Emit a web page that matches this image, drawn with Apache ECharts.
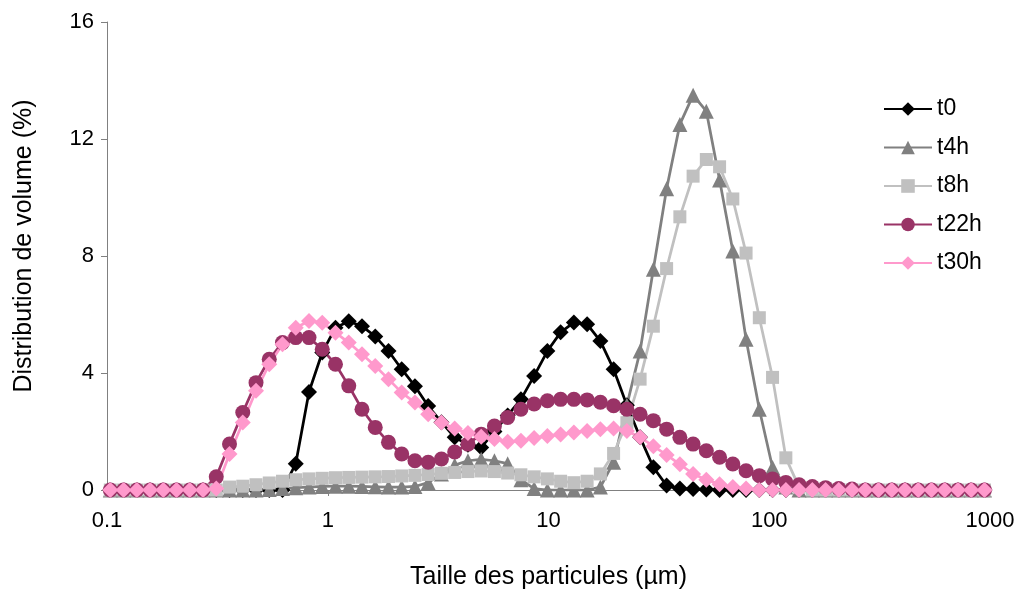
<!DOCTYPE html>
<html>
<head>
<meta charset="utf-8">
<script src="https://cdn.jsdelivr.net/npm/echarts@6/dist/echarts.min.js"></script>
<style>
html,body{margin:0;padding:0;background:#fff;}
#chart{width:1018px;height:595px;}
</style>
</head>
<body>
<div id="chart"></div>
<script>
// particle sizes (µm)
const sizes = [0.1035,0.1189,0.1365,0.1567,0.1799,0.2065,0.2371,0.2723,0.3126,0.3589,0.4121,0.4732,0.5433,0.6237,0.7161,0.8222,0.9441,
1.084,1.245,1.429,1.641,1.884,2.163,2.483,2.851,3.273,3.758,4.315,4.955,5.689,6.531,7.499,8.610,9.886,
11.35,13.03,14.96,17.18,19.72,22.65,26.00,29.85,34.28,39.36,45.19,51.88,59.57,68.39,78.52,90.16,
103.5,118.9,136.5,156.7,179.9,206.5,237.1,272.3,312.6,358.9,412.1,473.2,543.3,623.7,716.1,822.2,944.1];

const t0 = [0,0,0,0,0,0,0,0,0,0,0,0,0,0,
0.9,3.35,4.7,5.55,5.77,5.6,5.25,4.75,4.13,3.55,2.87,2.32,1.8,1.55,1.45,2.0,2.55,3.1,3.9,4.75,5.39,5.73,5.67,5.09,4.13,2.9,1.8,0.78,0.15,0.05,0.03,0.02,
0,0,0,0,0,0,0,0,0,0,0,0,0,0,0,0,0,0,0,0,0];

const t4h = [0,0,0,0,0,0,0,0,0,0,0,0,
0.02,0.05,0.08,0.1,0.12,0.13,0.13,0.12,0.11,0.1,0.1,0.12,0.25,0.55,0.85,1.0,1.05,1.0,0.9,0.35,0.05,0,0,0,0,0.1,0.95,2.9,4.75,7.55,10.3,12.5,13.5,12.95,10.6,8.17,5.15,2.76,0.77,0.1,
0,0,0,0,0,0,0,0,0,0,0,0,0,0,0];

const t8h = [0,0,0,0,0,0,0,0,0,
0.1,0.13,0.18,0.24,0.3,0.35,0.38,0.4,0.42,0.43,0.44,0.45,0.46,0.48,0.5,0.53,0.57,0.6,0.63,0.65,0.63,0.58,0.52,0.45,0.38,0.3,0.25,0.3,0.55,1.25,2.3,3.79,5.6,7.57,9.34,10.73,11.3,11.05,9.95,8.1,5.89,3.85,1.1,0.1,
0,0,0,0,0,0,0,0,0,0,0,0,0,0];

const t22h = [0,0,0,0,0,0,0,0,
0.45,1.57,2.65,3.67,4.47,5.04,5.21,5.21,4.81,4.3,3.56,2.76,2.14,1.63,1.23,1.0,0.95,1.06,1.3,1.57,1.91,2.19,2.48,2.76,2.94,3.05,3.1,3.1,3.08,3.0,2.88,2.76,2.59,2.37,2.08,1.8,1.57,1.34,1.12,0.89,0.66,0.49,0.38,0.26,0.18,0.12,0.08,0.05,0.03,
0,0,0,0,0,0,0,0,0,0];

const t30h = [0,0,0,0,0,0,0,0,
0.05,1.23,2.31,3.39,4.3,4.98,5.55,5.78,5.72,5.38,5.04,4.64,4.24,3.79,3.33,2.99,2.59,2.31,2.1,1.95,1.82,1.74,1.65,1.68,1.78,1.85,1.9,1.97,2.02,2.08,2.1,2.02,1.8,1.5,1.2,0.88,0.55,0.35,0.2,0.1,0.05,
0,0,0,0,0,0,0,0,0,0,0,0,0,0,0,0,0,0];

const seriesNames = ['t0','t4h','t8h','t22h','t30h'];
const seriesValues = [t0,t4h,t8h,t22h,t30h];
const colors = ['#000000','#808080','#C0C0C0','#993366','#FF99CC'];
const symbols = ['diamond','triangle','rect','circle','diamond'];
const symbolSizes = [16,15,13,15,16];

const xTicks = [0.1,1,10,100,1000];
const yTicks = [0,4,8,12,16];

const FONT = '"Liberation Sans", Arial, Helvetica, sans-serif';

const chart = echarts.init(document.getElementById('chart'), null, {renderer:'canvas'});
const series = seriesNames.map((name,k)=>({
  name: name,
  type: 'line',
  data: sizes.map((s,i)=>[s, seriesValues[k][i]]),
  symbol: symbols[k],
  symbolSize: symbolSizes[k],
  showAllSymbol: true,
  lineStyle: {color: colors[k], width: 2.75},
  itemStyle: {color: colors[k], borderWidth: 0},
  emphasis: {disabled: true},
  animation: false,
  clip: true
}));

chart.setOption({
  animation: false,
  backgroundColor: '#ffffff',
  grid: {left: 107, right: 28, top: 22, bottom: 104, containLabel: false},
  xAxis: {
    type: 'log',
    logBase: 10,
    min: xTicks[0],
    max: xTicks[xTicks.length-1],
    name: 'Taille des particules (µm)',
    nameLocation: 'middle',
    nameGap: 75,
    nameTextStyle: {fontFamily: FONT, fontSize: 25, color: '#000'},
    axisLine: {show: true, lineStyle: {color: '#808080', width: 1}},
    axisTick: {show: true, inside: false, length: 6, lineStyle: {color: '#808080'}},
    minorTick: {show: false},
    splitLine: {show: false},
    axisLabel: {
      fontFamily: FONT, fontSize: 22, color: '#000', margin: 20,
      formatter: function(v){ return String(+v.toPrecision(6)); }
    }
  },
  yAxis: {
    type: 'value',
    min: yTicks[0],
    max: yTicks[yTicks.length-1],
    interval: 4,
    name: 'Distribution de volume (%)',
    nameLocation: 'middle',
    nameGap: 70,
    nameRotate: 90,
    nameTextStyle: {fontFamily: FONT, fontSize: 25, color: '#000', padding: [0,0,0,20]},
    axisLine: {show: true, lineStyle: {color: '#808080', width: 1}},
    axisTick: {show: true, inside: false, length: 6, lineStyle: {color: '#808080'}},
    splitLine: {show: false},
    axisLabel: {fontFamily: FONT, fontSize: 22, color: '#000', margin: 13}
  },
  legend: {
    data: seriesNames,
    orient: 'vertical',
    left: 878,
    top: 92,
    itemWidth: 48,
    itemHeight: 17,
    itemGap: 14.5,
    textStyle: {fontFamily: FONT, fontSize: 23, color: '#000', lineHeight: 24},
    selectedMode: false
  },
  series: series
});
</script>
</body>
</html>
